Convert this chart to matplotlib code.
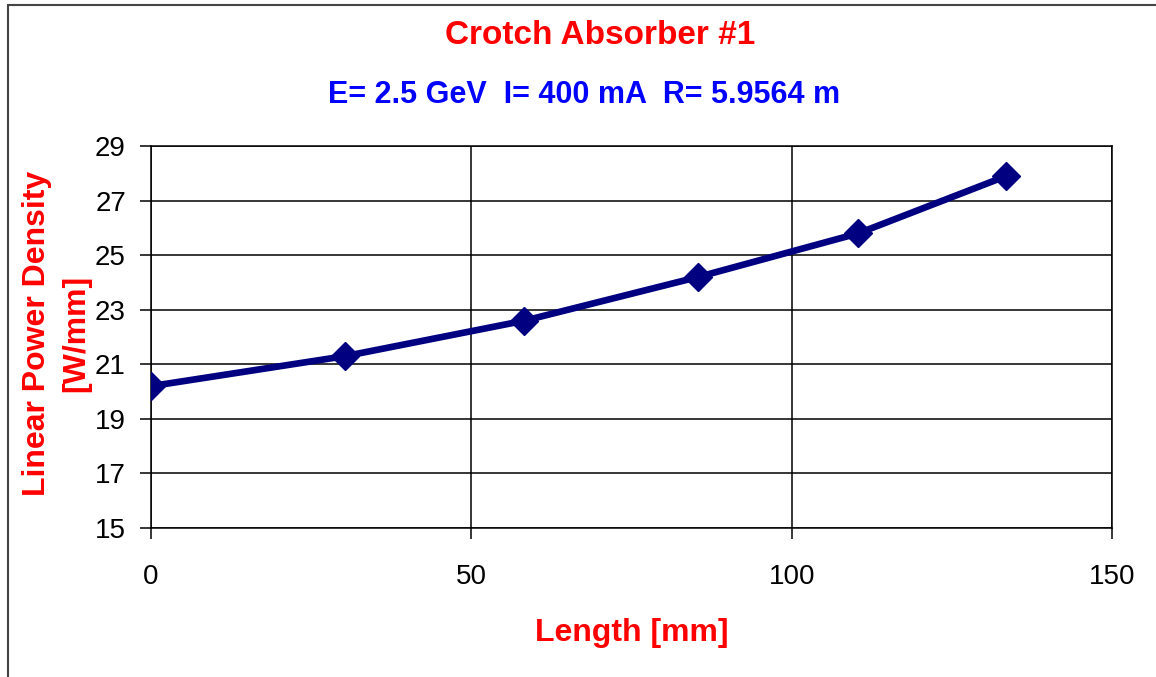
import matplotlib.pyplot as plt
from matplotlib.patches import Rectangle

# data
length_mm = [0, 30.3, 58.3, 85.4, 110.4, 133.5]
power_density = [20.2, 21.3, 22.6, 24.2, 25.8, 27.9]

x_ticks = [0, 50, 100, 150]
y_ticks = [15, 17, 19, 21, 23, 25, 27, 29]

plt.rcParams["font.family"] = ["Liberation Sans", "DejaVu Sans"]

fig = plt.figure(figsize=(11.56, 6.77), dpi=100)
ax = fig.add_axes([0.1306, 0.22, 0.8313, 0.5643])

ax.plot(length_mm, power_density, color="#000080", linewidth=4.8,
        marker="D", markersize=14, markeredgecolor="#000080",
        markerfacecolor="#000080", zorder=3)

ax.set_xlim(0, 150)
ax.set_ylim(15, 29)
ax.set_xticks(x_ticks)
ax.set_yticks(y_ticks)
ax.grid(True, color="black", linewidth=1.1)
ax.tick_params(axis="both", direction="out", length=8, width=1.1,
               labelsize=20, color="black")
ax.tick_params(axis="x", pad=18)
ax.tick_params(axis="y", pad=10)
for sp in ax.spines.values():
    sp.set_color("black")
    sp.set_linewidth(1.1)

ax.set_xlabel("Length [mm]", color="#FF0000", fontsize=23, fontweight="bold",
              labelpad=20)
fig.text(0.049, 0.508, "Linear Power Density\n[W/mm]", rotation=90,
         color="#FF0000", fontsize=23, fontweight="bold",
         ha="center", va="center", linespacing=1.4, multialignment="center")

fig.text(0.519, 0.948, "Crotch Absorber #1", color="#FF0000", fontsize=24,
         fontweight="bold", ha="center", va="center")
fig.text(0.505, 0.859, "E= 2.5 GeV  I= 400 mA  R= 5.9564 m", color="#0000FF",
         fontsize=22, fontweight="bold", ha="center", va="center")

# outer frame (visible only at top and left in the reference)
fig.add_artist(Rectangle((0.007, -0.01), 1.1, 1.003, transform=fig.transFigure,
                         fill=False, edgecolor="#444444", linewidth=1.5))

fig.savefig("out.png", dpi=100)
